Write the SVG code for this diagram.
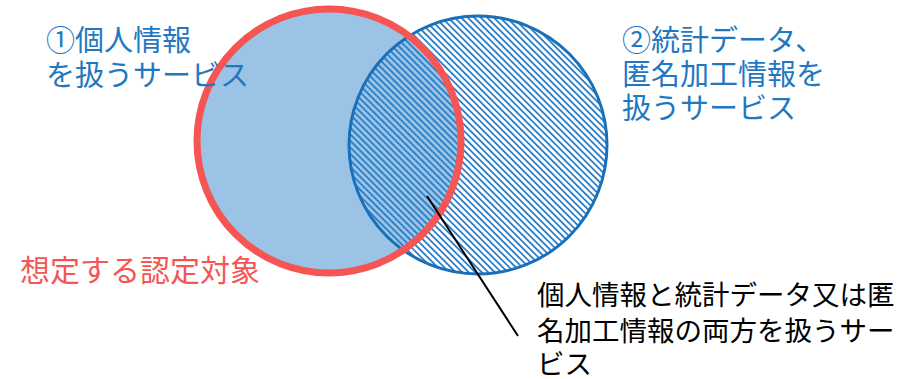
<svg xmlns="http://www.w3.org/2000/svg" width="916" height="379" viewBox="0 0 916 379">
<style>
.t{font-family:"Noto Sans CJK JP","Noto Sans",sans-serif;font-size:29px}
.b{fill:#1f78c1}
.r{fill:#f75454;font-size:30px}
.k{fill:#000;font-size:27.5px}
</style>
<defs>
<pattern id="hatch" patternUnits="userSpaceOnUse" width="4.6" height="4.6" patternTransform="rotate(-45)">
<rect x="0" y="0" width="1.8" height="4.6" fill="#2a7fc9"/>
</pattern>
</defs>
<rect width="916" height="379" fill="#fff"/>
<g id="node-personal">
<circle cx="329" cy="141" r="132" fill="#9ac3e6"/>
</g>
<g id="node-stat">
<circle cx="478" cy="145" r="129" fill="url(#hatch)" stroke="#1a70b8" stroke-width="3"/>
</g>
<g id="node-personal-outline">
<circle cx="329" cy="141" r="132" fill="none" stroke="#f75454" stroke-width="7"/>
</g>
<g id="connectors">
<line x1="427" y1="196" x2="518" y2="336" stroke="#000" stroke-width="2"/>
</g>
<g id="label-1">
<text class="t b" x="46" y="51">①個人情報</text>
<text class="t b" x="46" y="86">を扱うサービス</text>
</g>
<g id="label-2">
<text class="t b" x="622" y="51">②統計データ、</text>
<text class="t b" x="622" y="85">匿名加工情報を</text>
<text class="t b" x="622" y="119">扱うサービス</text>
</g>
<g id="label-target">
<text class="t r" x="20" y="281">想定する認定対象</text>
</g>
<g id="label-both">
<text class="t k" x="537" y="305">個人情報と統計データ又は匿</text>
<text class="t k" x="537" y="341">名加工情報の両方を扱うサー</text>
<text class="t k" x="537" y="374">ビス</text>
</g>
</svg>
